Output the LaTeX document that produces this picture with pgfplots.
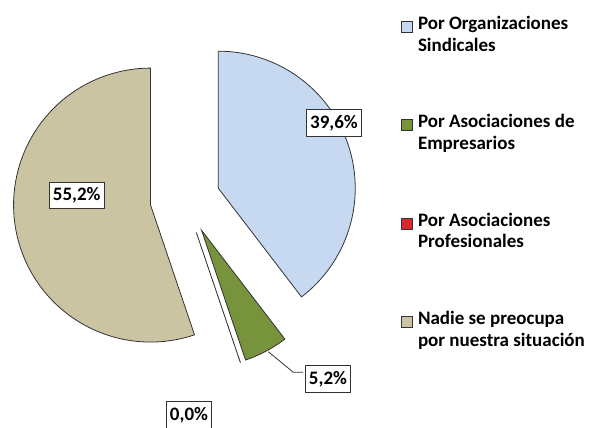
\documentclass[border=0pt]{standalone}
\usepackage{fontspec}
\setmainfont{Carlito}
\usepackage{pgfplots}
\usepackage{pgfplotstable}
\pgfplotsset{compat=1.18}
\definecolor{sBlue}{HTML}{C6D9F1}
\definecolor{sGreen}{HTML}{77933C}
\definecolor{sRed}{HTML}{D8262B}
\definecolor{sTan}{HTML}{CBC4A2}
\definecolor{sLine}{HTML}{333333}
\pgfplotstableread{
label value
Sindicales 39.6
Empresarios 5.2
Profesionales 0.0
Nadie 55.2
}\piedata
\begin{document}
\begin{tikzpicture}
\useasboundingbox (0,0) rectangle (590pt,428pt);
\pgfplotstablegetelem{0}{value}\of\piedata\edef\vA{\pgfplotsretval}
\pgfplotstablegetelem{1}{value}\of\piedata\edef\vB{\pgfplotsretval}
\pgfplotstablegetelem{2}{value}\of\piedata\edef\vC{\pgfplotsretval}
\pgfplotstablegetelem{3}{value}\of\piedata\edef\vD{\pgfplotsretval}
\def\cx{185.1}\def\cy{228.6}\def\R{137}\def\ex{35}
\pgfmathsetmacro\aA{90}
\pgfmathsetmacro\bA{\aA-3.6*\vA}
\pgfmathsetmacro\bB{\bA-3.6*\vB}
\pgfmathsetmacro\bC{\bB-3.6*\vC}
\pgfmathsetmacro\bD{\bC-3.6*\vD}
\pgfmathsetmacro\cxA{\cx+\ex*cos((\aA+\bA)/2)}\pgfmathsetmacro\cyA{\cy+\ex*sin((\aA+\bA)/2)}
\pgfmathsetmacro\cxB{\cx+\ex*cos((\bA+\bB)/2)}\pgfmathsetmacro\cyB{\cy+\ex*sin((\bA+\bB)/2)}
\pgfmathsetmacro\cxC{\cx+\ex*cos((\bB+\bC)/2)}\pgfmathsetmacro\cyC{\cy+\ex*sin((\bB+\bC)/2)}
\pgfmathsetmacro\cxD{\cx+\ex*cos((\bC+\bD)/2)}\pgfmathsetmacro\cyD{\cy+\ex*sin((\bC+\bD)/2)}
\pgfmathsetmacro\bCe{\bB-0.01}
\begin{axis}[
  scale only axis, width=590pt, height=428pt,
  xmin=0, xmax=590, ymin=0, ymax=428,
  hide axis, clip=false,
  legend style={at={(axis cs:401,414)}, anchor=north west, draw=none, fill=none,
    font=\bfseries\fontsize{19}{21.5}\selectfont, cells={align=left},
    row sep=58pt, inner sep=0pt, column sep=3pt},
  legend cell align=left,
  legend image code/.code={\draw[#1, draw=sLine, line width=0.8pt] (0pt,2pt) rectangle (11pt,13pt);},
  every axis plot/.append style={draw=sLine, line width=0.8pt, samples=80},
]
\addplot[fill=sBlue, domain=\bA:\aA, variable=\t]
  ({\cxA+\R*cos(\t)},{\cyA+\R*sin(\t)}) -- (axis cs:\cxA,\cyA) -- cycle;
\addlegendentry{Por Organizaciones\\Sindicales}
\addplot[fill=sGreen, domain=\bB:\bA, variable=\t]
  ({\cxB+\R*cos(\t)},{\cyB+\R*sin(\t)}) -- (axis cs:\cxB,\cyB) -- cycle;
\addlegendentry{Por Asociaciones de\\Empresarios}
\addplot[fill=sRed, domain=\bCe:\bB, samples=2, variable=\t]
  ({\cxC+\R*cos(\t)},{\cyC+\R*sin(\t)}) -- (axis cs:\cxC,\cyC) -- cycle;
\addlegendentry{Por Asociaciones\\Profesionales}
\addplot[fill=sTan, domain=\bD:\bC, variable=\t]
  ({\cxD+\R*cos(\t)},{\cyD+\R*sin(\t)}) -- (axis cs:\cxD,\cyD) -- cycle;
\addlegendentry{Nadie se preocupa\\por nuestra situación}
\draw[sLine, line width=0.8pt] (axis cs:268.3,76.3) -- (axis cs:293.3,55.7) -- (axis cs:303,55.7);
\tikzset{lbl/.style={draw=sLine, line width=0.8pt, fill=white, font=\bfseries\fontsize{19}{21}\selectfont, inner xsep=3.5pt, inner ysep=5.5pt}}
\node[lbl] at (axis cs:334,305) {39,6\%};
\node[lbl] at (axis cs:76.7,232.5) {55,2\%};
\node[lbl] at (axis cs:328,49) {5,2\%};
\node[lbl] at (axis cs:189,13) {0,0\%};
\end{axis}
\end{tikzpicture}
\end{document}
